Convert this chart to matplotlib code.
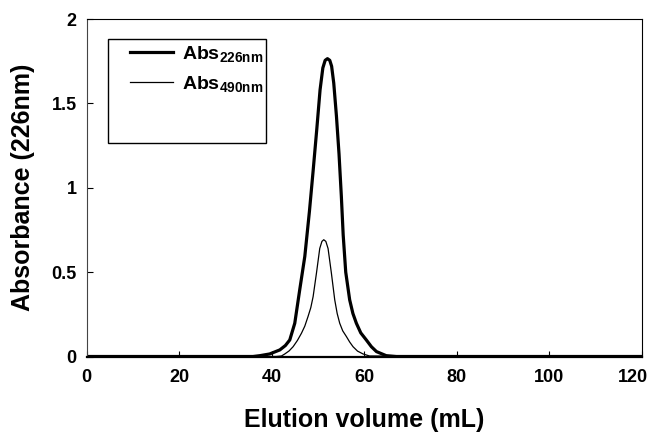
import matplotlib
matplotlib.use("Agg")
import matplotlib.pyplot as plt
import matplotlib.transforms as mtransforms
from matplotlib.patches import Rectangle

plt.rcParams['font.family'] = ['Liberation Sans', 'DejaVu Sans']
plt.rcParams['font.weight'] = 'bold'
plt.rcParams['mathtext.fontset'] = 'custom'
plt.rcParams['mathtext.rm'] = 'Liberation Sans:bold'
plt.rcParams['mathtext.bf'] = 'Liberation Sans:bold'
plt.rcParams['mathtext.it'] = 'Liberation Sans:bold'

vol_226 = [0, 20, 36.0, 37.5, 39.6, 41.8, 43.0, 43.95, 45.03, 46.1, 47.2, 48.2, 49.0,
           49.8, 50.5, 51.1, 51.6, 52.1, 52.6, 53.0, 53.46, 54.04, 54.6,
           55.1, 55.5, 56.05, 56.9, 57.6, 58.35, 59.3, 60.5, 61.6, 62.7, 64.8, 67, 120]
abs_226 = [0, 0, 0, 0.005, 0.015, 0.039, 0.065, 0.098, 0.197, 0.395, 0.593, 0.86, 1.10,
           1.35, 1.58, 1.71, 1.755, 1.765, 1.755, 1.72, 1.62, 1.425, 1.20,
           0.95, 0.72, 0.50, 0.336, 0.255, 0.197, 0.14, 0.098, 0.058, 0.029, 0.005, 0, 0]

vol_490 = [0, 20, 41.0, 42.15, 42.87, 43.8, 44.67, 45.6, 46.48, 47.2, 47.9, 48.5, 49.0,
           49.72, 50.43, 50.9, 51.3, 51.75, 52.23, 52.95, 53.67, 54.2, 54.75, 55.4,
           56.2, 56.9, 57.63, 58.6, 59.8, 61.2, 120]
abs_490 = [0, 0, 0, 0.003, 0.015, 0.033, 0.058, 0.095, 0.138, 0.18, 0.237, 0.29, 0.355,
           0.494, 0.64, 0.682, 0.692, 0.682, 0.64, 0.494, 0.336, 0.255, 0.197, 0.152,
           0.118, 0.086, 0.058, 0.032, 0.015, 0.003, 0]

x_ticks = [0, 20, 40, 60, 80, 100, 120]
y_ticks = [0, 0.5, 1, 1.5, 2]
y_tick_labels = ['0', '0.5', '1', '1.5', '2']

fig = plt.figure(figsize=(6.54, 4.34), dpi=100)
x0, x1 = 86.5 / 654, 641.5 / 654
y0, y1 = (434 - 356.5) / 434, (434 - 19) / 434
ax = fig.add_axes([x0, y0, x1 - x0, y1 - y0])

ax.plot(vol_226, abs_226, color='black', lw=2.3, solid_joinstyle='round',
        label=r'Abs$_{\mathbf{226nm}}$')
ax.plot(vol_490, abs_490, color='black', lw=0.9, solid_joinstyle='round',
        label=r'Abs$_{\mathbf{490nm}}$')

ax.set_xlim(0, 120)
ax.set_ylim(0, 2)
ax.set_xticks(x_ticks)
ax.set_yticks(y_ticks)
ax.set_yticklabels(y_tick_labels)
ax.tick_params(axis='x', direction='in', length=4, width=0.8, labelsize=13, pad=9)
ax.tick_params(axis='y', direction='in', length=4, width=0.8, labelsize=13, pad=7)
for lab in ax.get_xticklabels() + ax.get_yticklabels():
    lab.set_fontweight('bold')
# shift the last x tick label slightly left so it fits in the figure
last = ax.get_xticklabels()[-1]
last.set_transform(last.get_transform() +
                   mtransforms.ScaledTranslation(-9 / 100, 0, fig.dpi_scale_trans))
for name, s in ax.spines.items():
    s.set_linewidth(0.8)
ax.spines['left'].set_color('#444444')
ax.spines['bottom'].set_linewidth(1.6)

ax.set_xlabel('Elution volume (mL)', fontsize=18, fontweight='bold', labelpad=16)
ax.set_ylabel('Absorbance (226nm)', fontsize=18, fontweight='bold', labelpad=12)

# legend box
bx0 = (108 - 86.5) / 555
bx1 = (266 - 86.5) / 555
by1 = (356.5 - 39) / 337.5
by0 = (356.5 - 143) / 337.5
ax.add_patch(Rectangle((bx0, by0), bx1 - bx0, by1 - by0, transform=ax.transAxes,
                       fill=False, edgecolor='black', lw=1.0, zorder=5))

leg = ax.legend(loc='upper left', bbox_to_anchor=((130 - 86.5) / 555, (356.5 - 44) / 337.5),
                fontsize=14, frameon=False, handlelength=2.2, borderpad=0,
                borderaxespad=0, labelspacing=0.5, handletextpad=0.5)

fig.savefig('out.png', dpi=100)
